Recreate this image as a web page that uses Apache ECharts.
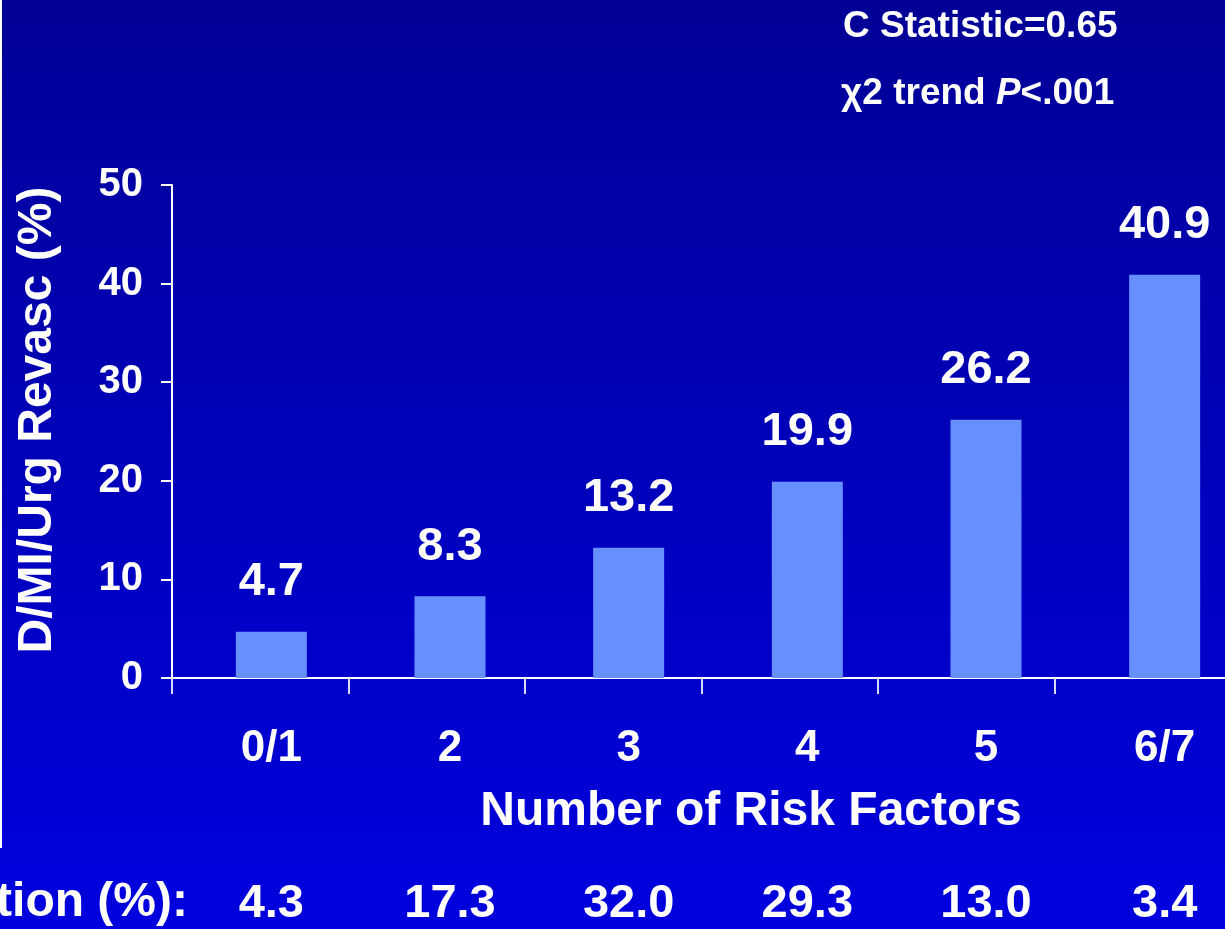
<!DOCTYPE html>
<html><head><meta charset="utf-8">
<script src="https://cdn.jsdelivr.net/npm/echarts@6/dist/echarts.min.js"></script>
<style>html,body{margin:0;padding:0;width:1225px;height:929px;overflow:hidden}#c{width:1225px;height:929px}</style>
</head><body><div id="c"></div>
<script>
const categories = ['0/1', '2', '3', '4', '5', '6/7'];
const eventRates = [4.7, 8.3, 13.2, 19.9, 26.2, 40.9];
const prevalence = ['4.3', '17.3', '32.0', '29.3', '13.0', '3.4'];
const yTicks = [0, 10, 20, 30, 40, 50];

const FONT = '"Liberation Sans", Arial, sans-serif';
const chart = echarts.init(document.getElementById('c'), null, {renderer: 'canvas'});
chart.setOption({
  backgroundColor: {type: 'linear', x: 0, y: 0, x2: 0, y2: 1, colorStops: [
    {offset: 0, color: '#000096'}, {offset: 1, color: '#0000DE'}]},
  animation: false,
  textStyle: {fontFamily: FONT},
  title: [
    {text: 'C Statistic=0.65', left: 838, top: 3,
     textStyle: {color: '#fff', fontSize: 37, fontWeight: 'bold', fontFamily: FONT}},
    {text: '{c|χ}2 trend {i|P}<.001', left: 836, top: 70,
     textStyle: {color: '#fff', fontSize: 37, fontWeight: 'bold', fontFamily: FONT,
       rich: {i: {fontStyle: 'italic', fontWeight: 'bold', fontSize: 37, color: '#fff', fontFamily: FONT},
              c: {fontSize: 37, fontWeight: 'bold', color: '#fff', fontFamily: FONT}}}}
  ],
  graphic: [
    {type: 'line', shape: {x1: 1, y1: 0, x2: 1, y2: 848}, style: {stroke: '#fff', lineWidth: 2}},
    {type: 'text', x: 38, y: 420, rotation: Math.PI / 2,
     style: {text: 'D/MI/Urg Revasc (%)', fill: '#fff', font: 'bold 48px ' + FONT,
             textAlign: 'center', textVerticalAlign: 'middle'}},
    {type: 'text', x: 751, y: 812,
     style: {text: 'Number of Risk Factors', fill: '#fff', font: 'bold 48px ' + FONT,
             textAlign: 'center', textVerticalAlign: 'middle'}},
    {type: 'text', x: 188, y: 903,
     style: {text: 'tion (%):', fill: '#fff', font: 'bold 48px ' + FONT,
             textAlign: 'right', textVerticalAlign: 'middle'}}
  ],
  grid: [
    {left: 172, right: -6, top: 185, bottom: 251, outerBoundsMode: 'none'},
    {left: 182, width: 1072, top: 185, bottom: 251, outerBoundsMode: 'none'}
  ],
  xAxis: [
    {type: 'category', gridIndex: 0, data: categories, boundaryGap: true,
     axisLine: {lineStyle: {color: '#fff', width: 2}},
     axisTick: {show: true, length: 16, lineStyle: {color: '#d8d8ff', width: 2}},
     axisLabel: {show: false}},
    {type: 'category', gridIndex: 1, data: categories,
     axisLine: {show: false}, axisTick: {show: false},
     axisLabel: {color: '#fff', fontSize: 44, fontWeight: 'bold', margin: 49, fontFamily: FONT}},
    {type: 'category', gridIndex: 1, data: prevalence, position: 'bottom',
     axisLine: {show: false}, axisTick: {show: false},
     axisLabel: {color: '#fff', fontSize: 47, fontWeight: 'bold', margin: 203, fontFamily: FONT}}
  ],
  yAxis: [
    {type: 'value', gridIndex: 0, min: yTicks[0], max: yTicks[yTicks.length - 1], interval: 10,
     axisLine: {show: true, lineStyle: {color: '#fff', width: 2}},
     axisTick: {show: true, inside: false, length: 11, lineStyle: {color: '#fff', width: 2}},
     splitLine: {show: false},
     axisLabel: {color: '#fff', fontSize: 40, fontWeight: 'bold', margin: 29, fontFamily: FONT}},
    {type: 'value', gridIndex: 1, min: yTicks[0], max: yTicks[yTicks.length - 1], interval: 10,
     show: false, splitLine: {show: false}}
  ],
  series: [{
    type: 'bar', xAxisIndex: 1, yAxisIndex: 1, data: eventRates, barWidth: 71,
    itemStyle: {color: '#6690FF'},
    label: {show: true, position: 'top', distance: 26, color: '#fff', fontSize: 47,
            fontWeight: 'bold', fontFamily: FONT, formatter: p => p.value.toFixed(1)}
  }]
});
</script></body></html>
